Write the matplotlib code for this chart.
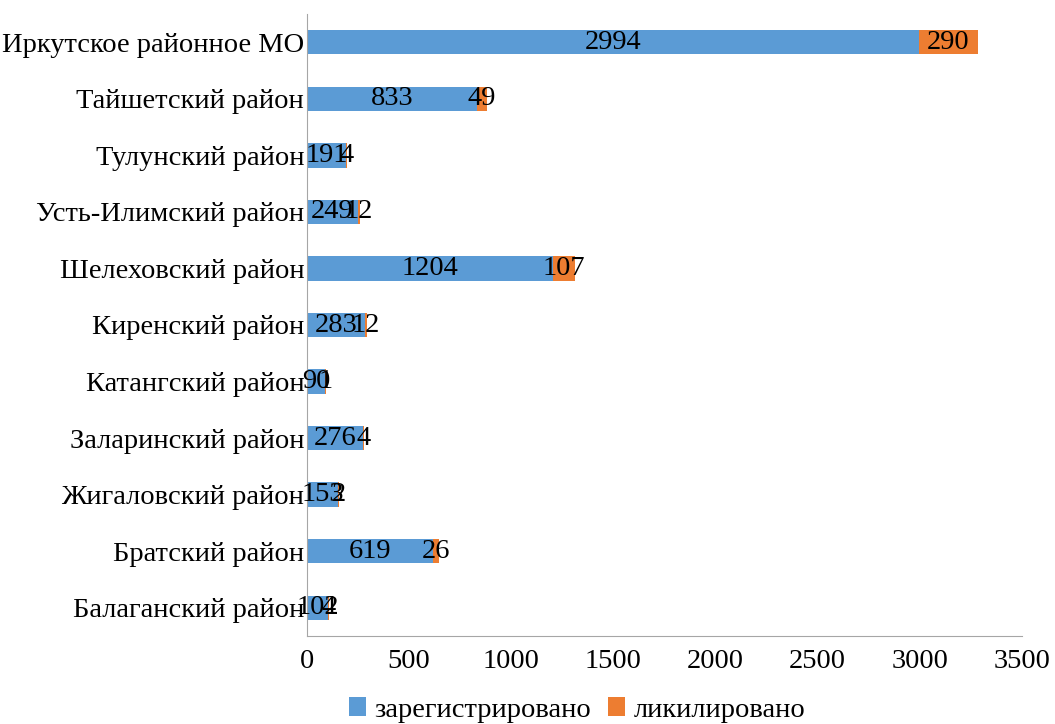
import matplotlib.pyplot as plt
import numpy as np

plt.rcParams['font.family'] = ['Liberation Serif', 'DejaVu Serif']

# районы снизу вверх
districts = ['Балаганский район', 'Братский район', 'Жигаловский район',
             'Заларинский район', 'Катангский район', 'Киренский район',
             'Шелеховский район', 'Усть-Илимский район', 'Тулунский район',
             'Тайшетский район', 'Иркутское районное МО']
registered = [102, 619, 153, 276, 90, 283, 1204, 249, 191, 833, 2994]
liquidated = [4, 26, 2, 4, 1, 12, 107, 12, 4, 49, 290]

blue = '#5B9BD5'
orange = '#ED7D31'
fs = 20.5

fig = plt.figure(figsize=(10.55, 7.24), dpi=100)
ax = fig.add_axes([307 / 1055, 88 / 724, 715 / 1055, 622 / 724])

y = np.arange(len(districts))
b1 = ax.barh(y, registered, height=0.43, color=blue, label='зарегистрировано')
b2 = ax.barh(y, liquidated, left=registered, height=0.43, color=orange,
             label='ликилировано')
ax.bar_label(b1, label_type='center', fontsize=fs)
ax.bar_label(b2, label_type='center', fontsize=fs)

ax.set_xlim(0, 3500)
ax.set_ylim(-0.5, len(districts) - 0.5)
ax.set_xticks(np.arange(0, 3501, 500))
ax.set_yticks(y)
ax.set_yticklabels(districts, fontsize=fs)
ax.tick_params(axis='x', labelsize=fs, length=0, pad=9)
ax.tick_params(axis='y', length=0, pad=2)

for s in ['top', 'right']:
    ax.spines[s].set_visible(False)
ax.spines['left'].set_color('#a6a6a6')
ax.spines['bottom'].set_color('#a6a6a6')

fig.legend(loc='center', bbox_to_anchor=(0.547, 14 / 724), ncol=2,
           frameon=False, fontsize=fs, handlelength=0.6, handleheight=0.6,
           handletextpad=0.3, columnspacing=0.6)

fig.savefig('out.png', dpi=100)
